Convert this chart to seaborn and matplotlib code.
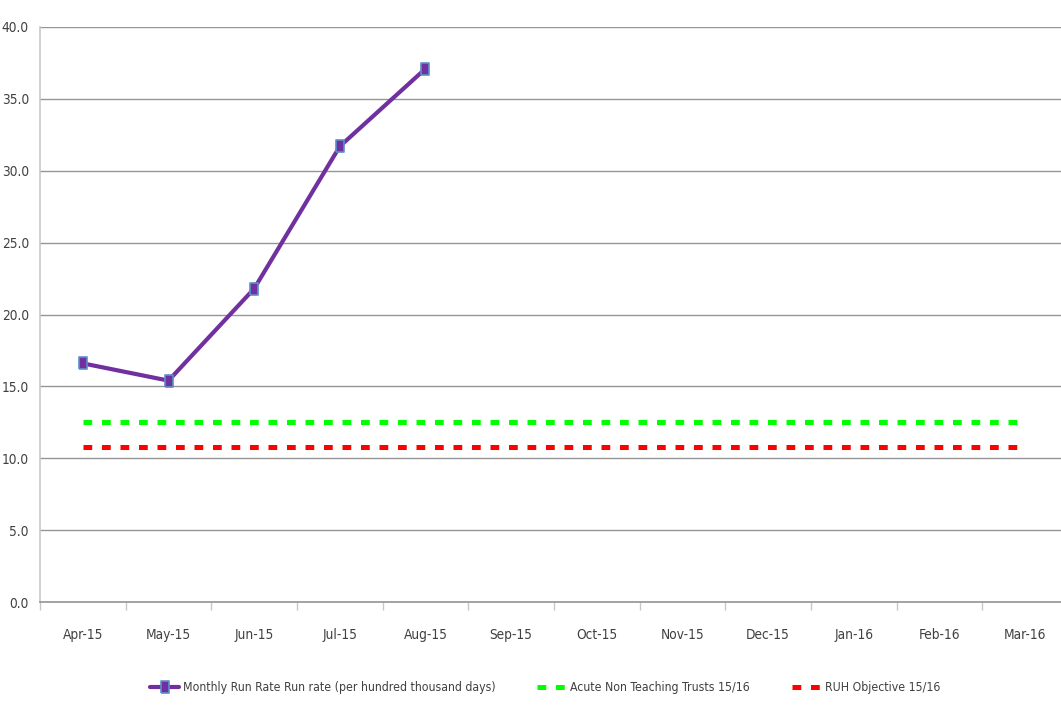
import matplotlib
matplotlib.use("Agg")
import matplotlib.pyplot as plt
from matplotlib.ticker import FixedLocator, FormatStrFormatter
import seaborn as sns
import pandas as pd

months = ["Apr-15", "May-15", "Jun-15", "Jul-15", "Aug-15", "Sep-15",
          "Oct-15", "Nov-15", "Dec-15", "Jan-16", "Feb-16", "Mar-16"]
run_rate_months = ["Apr-15", "May-15", "Jun-15", "Jul-15", "Aug-15"]
run_rate = [16.6, 15.4, 21.8, 31.7, 37.1]
acute_non_teaching = 12.5
ruh_objective = 10.8

run_label = "Monthly Run Rate Run rate (per hundred thousand days)"
acute_label = "Acute Non Teaching Trusts 15/16"
ruh_label = "RUH Objective 15/16"

sns.set_theme(style="white")
plt.rcParams["font.family"] = ["DejaVu Sans"]
plt.rcParams["font.stretch"] = "condensed"

text_col = "#404040"
grid_col = "#959595"

fig = plt.figure(figsize=(10.61, 7.21), dpi=100)
W, H = 1061, 721
left, right, top, bottom = 40, 1068, 27, 602
ax = fig.add_axes([left / W, 1 - bottom / H, (right - left) / W, (bottom - top) / H])

df = pd.DataFrame({"month": run_rate_months, "value": run_rate})
df["pos"] = [months.index(m) for m in df["month"]]

# tall, narrow rectangular marker
rect_marker = [(-0.33, -0.5), (0.33, -0.5), (0.33, 0.5), (-0.33, 0.5), (-0.33, -0.5)]

sns.lineplot(data=df, x="pos", y="value", ax=ax, color="#7030A0", linewidth=3.0,
             marker=rect_marker, markersize=9, markerfacecolor="#7030A0",
             markeredgecolor="#5B8FC9", markeredgewidth=1.2,
             label=run_label, zorder=5, legend=False)

dash = (0, (1.75, 1.95))
ax.hlines(acute_non_teaching, 0, len(months) - 1, colors="#00FF00", linewidth=3.6,
          linestyles=dash, label=acute_label, zorder=4)
ax.hlines(ruh_objective, 0, len(months) - 1, colors="#FF0000", linewidth=3.6,
          linestyles=dash, label=ruh_label, zorder=4)

ax.set_xlim(-0.5, len(months) - 0.5)
ax.set_ylim(0, 40)
ax.set_yticks([0, 5, 10, 15, 20, 25, 30, 35, 40])
ax.yaxis.set_major_formatter(FormatStrFormatter("%.1f"))
ax.yaxis.grid(True, color=grid_col, linewidth=1.0)
ax.xaxis.grid(False)
ax.set_axisbelow(True)

ax.set_xticks(range(len(months)))
ax.set_xticklabels(months)
ax.xaxis.set_minor_locator(FixedLocator([i - 0.5 for i in range(len(months) + 1)]))
ax.tick_params(axis="x", which="major", length=0, pad=19, labelsize=9.8, labelcolor=text_col)
ax.tick_params(axis="x", which="minor", length=6, width=1, color="#c8c8c8", direction="out", bottom=True)
ax.tick_params(axis="y", length=0, pad=8, labelsize=9.8, labelcolor=text_col)

ax.set_xlabel("")
ax.set_ylabel("")
for side in ["top", "right"]:
    ax.spines[side].set_visible(False)
ax.spines["left"].set_color("#c8c8c8")
ax.spines["left"].set_linewidth(1.2)
ax.spines["bottom"].set_color(grid_col)
ax.spines["bottom"].set_linewidth(1.2)

handles, labels = ax.get_legend_handles_labels()
leg = fig.legend(handles, labels, loc="center", bbox_to_anchor=(545 / W, 1 - 688 / H),
                 ncol=3, frameon=False, fontsize=8.8, handlelength=2.4,
                 handletextpad=0.3, columnspacing=3.4)
for t in leg.get_texts():
    t.set_color(text_col)

fig.savefig("out.png", dpi=100)
